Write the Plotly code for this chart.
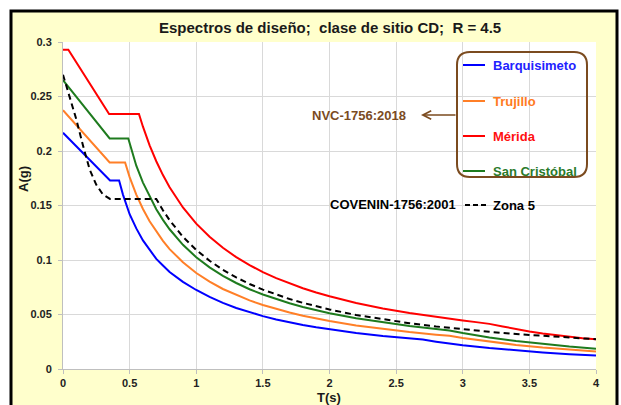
import plotly.graph_objects as go

# ---------------- data ----------------
T_barq = [0, 0.353, 0.421, 0.45, 0.5, 0.55, 0.6, 0.65, 0.7, 0.75, 0.8, 0.9, 1.0, 1.1, 1.2, 1.3,
          1.4, 1.5, 1.6, 1.7, 1.8, 1.9, 2.0, 2.2, 2.4, 2.6, 2.7, 2.8, 3.0, 3.2, 3.4, 3.6, 3.8, 4.0]
A_barq = [0.2167, 0.173, 0.173, 0.160, 0.142, 0.129, 0.118, 0.109, 0.101, 0.095, 0.089, 0.080, 0.0725,
          0.0662, 0.0607, 0.056, 0.052, 0.0485, 0.0455, 0.0428, 0.0404, 0.0383, 0.0364, 0.0331, 0.0303,
          0.028, 0.027, 0.0251, 0.0218, 0.0192, 0.017, 0.0152, 0.0136, 0.0123]

T_truj = [0, 0.35, 0.466, 0.5, 0.55, 0.6, 0.65, 0.7, 0.75, 0.8, 0.9, 1.0, 1.1, 1.2, 1.3, 1.4, 1.5,
          1.6, 1.7, 1.8, 1.9, 2.0, 2.2, 2.4, 2.6, 2.8, 2.9, 3.0, 3.2, 3.4, 3.6, 3.8, 4.0]
A_truj = [0.2375, 0.1895, 0.1895, 0.176, 0.160, 0.1468, 0.1355, 0.1259, 0.1175, 0.110, 0.0979, 0.0881,
          0.0801, 0.0734, 0.0678, 0.0629, 0.0587, 0.0551, 0.0518, 0.0489, 0.0464, 0.0441, 0.0400,
          0.0367, 0.0339, 0.0315, 0.0304, 0.0284, 0.0250, 0.0221, 0.0197, 0.0177, 0.0160]

T_mer = [0, 0.04, 0.346, 0.57, 0.6, 0.65, 0.7, 0.75, 0.8, 0.9, 1.0, 1.1, 1.2, 1.3, 1.4, 1.5, 1.6,
         1.7, 1.8, 1.9, 2.0, 2.2, 2.4, 2.6, 2.8, 3.0, 3.1, 3.2, 3.3, 3.4, 3.5, 3.6, 3.7, 3.8, 3.9, 4.0]
A_mer = [0.293, 0.293, 0.234, 0.234, 0.2223, 0.2052, 0.1906, 0.1779, 0.1668, 0.1482, 0.1334, 0.1213,
         0.1112, 0.1026, 0.0953, 0.0889, 0.0834, 0.0785, 0.0741, 0.0702, 0.0667, 0.0606, 0.0556,
         0.0513, 0.0476, 0.0445, 0.043, 0.0414, 0.039, 0.0366, 0.0344, 0.0325, 0.0309, 0.0295,
         0.0283, 0.0272]

T_sc = [0, 0.35, 0.49, 0.55, 0.6, 0.65, 0.7, 0.75, 0.8, 0.9, 1.0, 1.1, 1.2, 1.3, 1.4, 1.5, 1.6,
        1.7, 1.8, 1.9, 2.0, 2.2, 2.4, 2.6, 2.8, 2.9, 3.0, 3.2, 3.4, 3.6, 3.8, 4.0]
A_sc = [0.265, 0.2115, 0.2115, 0.1865, 0.171, 0.158, 0.1466, 0.1368, 0.1282, 0.1139, 0.1025, 0.0932,
        0.0854, 0.0789, 0.0732, 0.0683, 0.0641, 0.0603, 0.0569, 0.0539, 0.0512, 0.0466, 0.0427,
        0.0394, 0.0366, 0.0353, 0.033, 0.029, 0.0257, 0.0229, 0.0206, 0.0186]

T_cov = [0, 0.03, 0.06, 0.1, 0.15, 0.2, 0.25, 0.3, 0.353, 0.70, 0.75, 0.8, 0.9, 1.0, 1.1, 1.2, 1.3,
         1.4, 1.5, 1.6, 1.7, 1.8, 1.9, 2.0, 2.2, 2.4, 2.6, 2.8, 3.0, 3.2, 3.4, 3.6, 3.8, 4.0]
A_cov = [0.270, 0.258, 0.246, 0.229, 0.205, 0.183, 0.169, 0.160, 0.156, 0.156, 0.1456, 0.1365,
         0.1213, 0.1092, 0.0993, 0.091, 0.084, 0.078, 0.0728, 0.0683, 0.0642, 0.0607, 0.0575,
         0.0546, 0.0496, 0.0455, 0.042, 0.039, 0.0364, 0.0341, 0.0321, 0.0303, 0.0287, 0.0273]

series_names = ["Barquisimeto", "Trujillo", "Mérida", "San Cristóbal"]
line_colors = ["#0000FF", "#FF7F27", "#FF0000", "#1E7B1E"]
text_colors = ["#2222FF", "#FF7A22", "#FF1010", "#2A7A2A"]

title_text = "Espectros de diseño;  clase de sitio CD;  R = 4.5"
x_title = "T(s)"
y_title = "A(g)"
nvc_label = "NVC-1756:2018"
cov_label = "COVENIN-1756:2001"
zona_label = "Zona 5"

# ---------------- figure ----------------
W, H = 621, 405
L, R, TOP, B = 63, 25, 42, 36
PW, PH = W - L - R, H - TOP - B


def px(x):
    return (x - L) / PW


def py(y):
    return (H - B - y) / PH


FONT = "Liberation Sans, Arial, sans-serif"
BROWN = "#7B4B1F"

fig = go.Figure()
data_sets = [(T_barq, A_barq), (T_truj, A_truj), (T_mer, A_mer), (T_sc, A_sc)]
for (t, a), name, col in zip(data_sets, series_names, line_colors):
    fig.add_trace(go.Scatter(x=t, y=a, mode="lines", name=name,
                             line=dict(color=col, width=2), showlegend=False))
fig.add_trace(go.Scatter(x=T_cov, y=A_cov, mode="lines", name=zona_label,
                         line=dict(color="black", width=2, dash="6px,4px"), showlegend=False))

shapes = []
# outer yellow chart area with black border
shapes.append(dict(type="rect", xref="paper", yref="paper", layer="below",
                   x0=px(11), x1=px(617), y0=py(420), y1=py(11),
                   fillcolor="#FFFFCC", line=dict(color="black", width=3)))
# plot area white
shapes.append(dict(type="rect", xref="paper", yref="paper", layer="below",
                   x0=0, x1=1, y0=0, y1=1, fillcolor="white", line=dict(width=0)))

# rounded legend box
bx0, bx1, by0, by1 = 457, 587, 52, 177
r = 13
rx, ry = r / PW, r / PH
X0, X1, Y0, Y1 = px(bx0), px(bx1), py(by1), py(by0)
path = (f"M {X0+rx},{Y1} L {X1-rx},{Y1} Q {X1},{Y1} {X1},{Y1-ry} "
        f"L {X1},{Y0+ry} Q {X1},{Y0} {X1-rx},{Y0} L {X0+rx},{Y0} "
        f"Q {X0},{Y0} {X0},{Y0+ry} L {X0},{Y1-ry} Q {X0},{Y1} {X0+rx},{Y1} Z")
shapes.append(dict(type="path", xref="paper", yref="paper", path=path,
                   line=dict(color=BROWN, width=2)))

annotations = []
rows_y = [65, 101, 136, 171]
for yy, name, lc, tc in zip(rows_y, series_names, line_colors, text_colors):
    shapes.append(dict(type="line", xref="paper", yref="paper",
                       x0=px(463), x1=px(485), y0=py(yy), y1=py(yy),
                       line=dict(color=lc, width=2)))
    annotations.append(dict(xref="paper", yref="paper", x=px(491), y=py(yy),
                            xanchor="left", yanchor="middle", showarrow=False,
                            text=f"<b>{name}</b>", font=dict(family=FONT, size=13, color=tc)))

# NVC label and arrow
annotations.append(dict(xref="paper", yref="paper", x=px(408), y=py(115),
                        xanchor="right", yanchor="middle", showarrow=False,
                        text=f"<b>{nvc_label}</b>", font=dict(family=FONT, size=13, color=BROWN)))
annotations.append(dict(xref="paper", yref="paper", x=px(421), y=py(115), text="",
                        showarrow=True, ax=36, ay=0, arrowhead=5, arrowsize=1.1,
                        arrowwidth=1.5, arrowcolor=BROWN))

# COVENIN label
annotations.append(dict(xref="paper", yref="paper", x=px(328), y=py(204),
                        xanchor="left", yanchor="middle", showarrow=False,
                        text=f"<b>{cov_label}</b>", font=dict(family=FONT, size=13, color="black")))
shapes.append(dict(type="line", xref="paper", yref="paper",
                   x0=px(465), x1=px(486), y0=py(205), y1=py(205),
                   line=dict(color="black", width=2, dash="5px,3px")))
annotations.append(dict(xref="paper", yref="paper", x=px(491), y=py(206),
                        xanchor="left", yanchor="middle", showarrow=False,
                        text=f"<b>{zona_label}</b>", font=dict(family=FONT, size=13, color="black")))

# title and axis titles
annotations.append(dict(xref="paper", yref="paper", x=px(330), y=py(28),
                        xanchor="center", yanchor="middle", showarrow=False,
                        text=f"<b>{title_text}</b>", font=dict(family=FONT, size=15, color="#1a1a1a")))
annotations.append(dict(xref="paper", yref="paper", x=px(329), y=py(397),
                        xanchor="center", yanchor="middle", showarrow=False,
                        text=f"<b>{x_title}</b>", font=dict(family=FONT, size=13, color="#1a1a1a")))
annotations.append(dict(xref="paper", yref="paper", x=px(23), y=py(179),
                        xanchor="center", yanchor="middle", showarrow=False, textangle=-90,
                        text=f"<b>{y_title}</b>", font=dict(family=FONT, size=13, color="#1a1a1a")))

fig.update_layout(
    template="none",
    width=W, height=H,
    margin=dict(l=L, r=R, t=TOP, b=B, pad=0),
    paper_bgcolor="white",
    plot_bgcolor="rgba(0,0,0,0)",
    showlegend=False,
    shapes=shapes,
    annotations=annotations,
    font=dict(family=FONT, size=11, color="#222222"),
)
fig.update_xaxes(range=[0, 4], dtick=0.5, tick0=0, showgrid=True, gridcolor="#D9D9D9", gridwidth=1,
                 zeroline=False, showline=True, linecolor="#BFBFBF", linewidth=1,
                 ticks="outside", ticklen=4, tickcolor="#BFBFBF",
                 tickfont=dict(family=FONT, size=11, color="#222222", weight="bold"),
                 automargin=False)
fig.update_yaxes(range=[0, 0.3], dtick=0.05, tick0=0, showgrid=True, gridcolor="#D9D9D9", gridwidth=1,
                 zeroline=False, showline=True, linecolor="#BFBFBF", linewidth=1,
                 ticks="outside", ticklen=4, tickcolor="#BFBFBF",
                 tickfont=dict(family=FONT, size=11, color="#222222", weight="bold"),
                 ticklabelstandoff=4, automargin=False)

fig.write_html("out.html")
